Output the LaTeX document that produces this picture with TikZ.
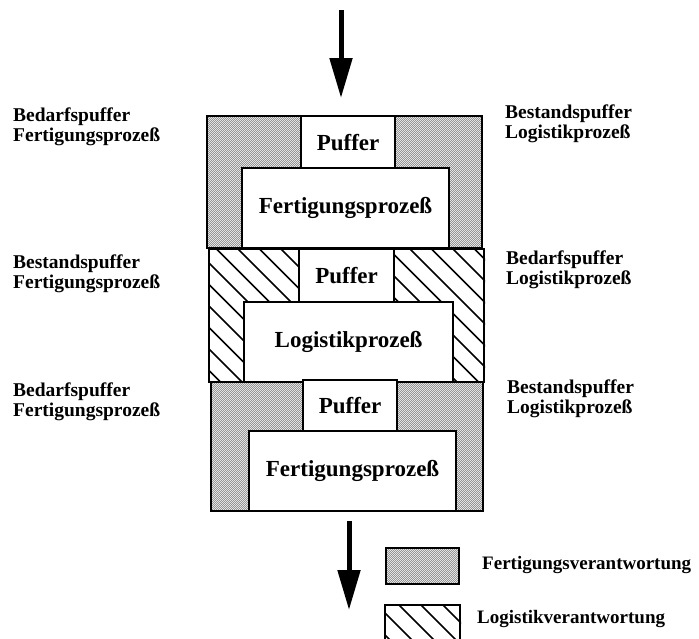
\documentclass[tikz,border=0pt]{standalone}
\usepackage{fontspec}
\setmainfont{Liberation Serif}
\usetikzlibrary{arrows.meta,patterns.meta}

% fine dither used for the production zones
\tikzdeclarepattern{
  name=stipple,
  type=uncolored,
  bounding box={(0pt,0pt) and (2.4pt,2.4pt)},
  tile size={(2.4pt,2.4pt)},
  code={
    \fill (0pt,0pt) rectangle (1.2pt,1.2pt);
    \fill (1.2pt,1.2pt) rectangle (2.4pt,2.4pt);
  }
}

\newcommand{\lblbig}{\fontsize{23}{26}\selectfont\bfseries}
\newcommand{\lblsmall}{\fontsize{19.5}{20}\selectfont\bfseries}
\newcommand{\lbllegend}{\fontsize{19}{20}\selectfont\bfseries}

\begin{document}
\begin{tikzpicture}[x=1pt,y=-1pt,
  frame/.style={draw, line width=2.2pt, inner sep=0pt, anchor=north west},
  fertzone/.style={frame, preaction={fill=black!6}, pattern=stipple, pattern color=black!42},
  logzone/.style={frame, fill=white},
  whitebox/.style={frame, fill=white, font=\lblbig},
  hatch/.style={line width=1.6pt},
  side/.style={align=left, inner sep=0pt, anchor=base west, font=\lblsmall},
  legtext/.style={inner sep=0pt, anchor=base west, font=\lbllegend},
  flow/.style={line width=5pt, -{Triangle[length=40pt,width=22pt]}}]

\clip (0,0) rectangle (699,638);
\useasboundingbox (0,0) rectangle (699,638);

% incoming and outgoing flow
\coordinate (inStart) at (341,10);
\coordinate (inEnd) at (341,98);
\coordinate (outStart) at (349,521);
\coordinate (outEnd) at (349,610);
\draw[flow] (inStart) -- (inEnd);
\draw[flow] (outStart) -- (outEnd);

% block 1: production
\node[fertzone, minimum width=275, minimum height=132] (b1) at (206,115) {};

% block 2: logistics, hatched
\node[logzone, minimum width=275, minimum height=133] (b2) at (208,248) {};
\begin{scope}
  \clip (b2.north west) rectangle (b2.south east);
  \foreach \k in {-7,...,15} {
    \pgfmathsetmacro{\c}{-54+21.5*\k}
    \draw[hatch] ({\c+200},200) -- ({\c+450},450);
  }
\end{scope}

% block 3: production
\node[fertzone, minimum width=272, minimum height=129] (b3) at (210,381) {};

% buffers and processes
\node[whitebox, minimum width=94, minimum height=52] (puf1) at (300,115) {Puffer};
\node[whitebox, minimum width=207, minimum height=80] (fert1) at (241,167) {Fertigungsprozeß};
\node[whitebox, minimum width=95, minimum height=53] (puf2) at (298,248) {Puffer};
\node[whitebox, minimum width=209, minimum height=80] (log2) at (243,301) {Logistikprozeß};
\node[whitebox, minimum width=94, minimum height=51] (puf3) at (302,379) {Puffer};
\node[whitebox, minimum width=207, minimum height=80] (fert3) at (248,430) {Fertigungsprozeß};

% side labels (anchored at the baseline of the second line)
\node[side] (l1) at (13,141) {Bedarfspuffer\\Fertigungsprozeß};
\node[side] (r1) at (505,138) {Bestandspuffer\\Logistikprozeß};
\node[side] (l2) at (13,288) {Bestandspuffer\\Fertigungsprozeß};
\node[side] (r2) at (506,284) {Bedarfspuffer\\Logistikprozeß};
\node[side] (l3) at (13,416) {Bedarfspuffer\\Fertigungsprozeß};
\node[side] (r3) at (507,413) {Bestandspuffer\\Logistikprozeß};

% legend
\node[fertzone, minimum width=73, minimum height=36] (legF) at (385,547) {};
\node[frame, fill=white, minimum width=75, minimum height=44] (legL) at (384,604) {};
\begin{scope}
  \clip (legL.north west) rectangle (legL.south east);
  \foreach \k in {-4,...,8} {
    \pgfmathsetmacro{\c}{-206+22*\k}
    \draw[hatch] ({\c+560},560) -- ({\c+680},680);
  }
\end{scope}
\node[legtext] (legFt) at (482,569) {Fertigungsverantwortung};
\node[legtext] (legLt) at (477,623) {Logistikverantwortung};

\end{tikzpicture}
\end{document}
